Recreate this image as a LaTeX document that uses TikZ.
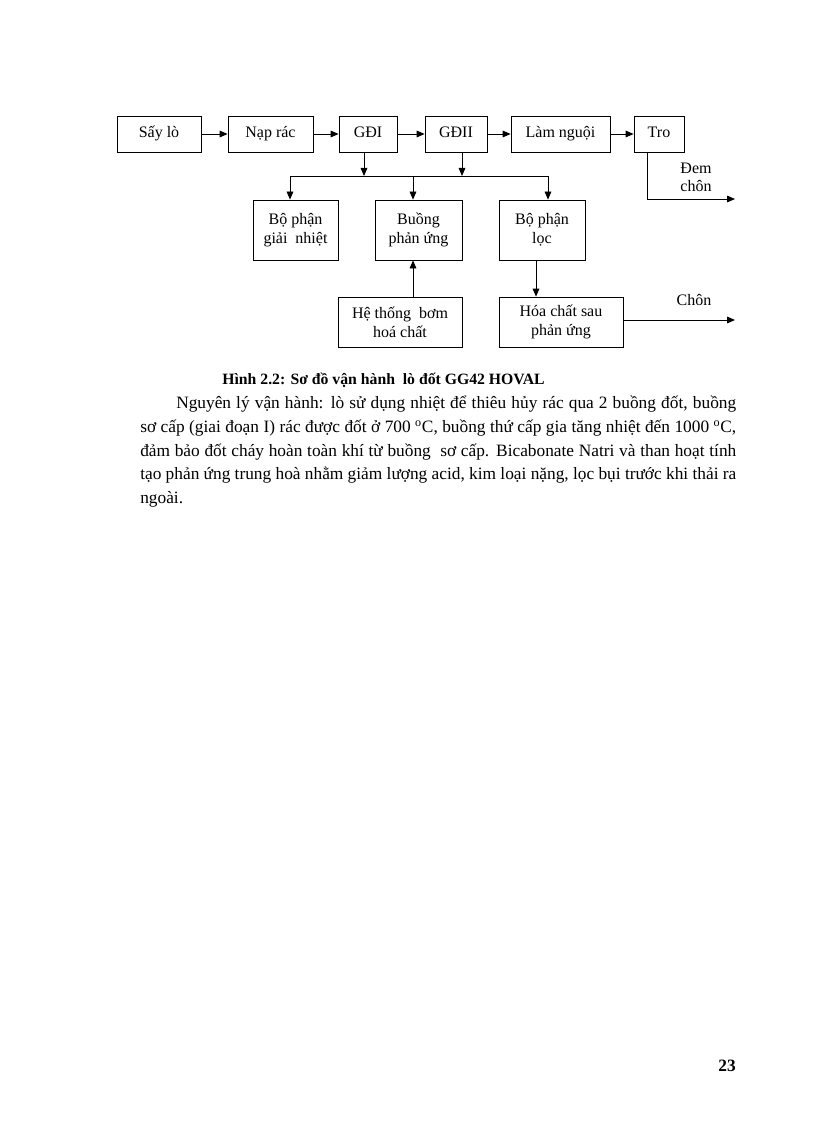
\documentclass[tikz,border=0pt]{standalone}
\usepackage{fontspec}
\setmainfont{Liberation Serif}
\usetikzlibrary{arrows.meta, positioning}

\tikzset{
  box/.style={draw, line width=0.6pt, inner sep=0pt, align=center,
              font=\fontsize{12}{14}\selectfont},
  onebox/.style={box, minimum height=27pt, text height=8pt, text depth=2.5pt},
  flow/.style={-{Triangle[length=6pt,width=5pt]}, line width=0.6pt},
  lbl/.style={inner sep=0pt, align=center, font=\fontsize{12}{13.5}\selectfont},
  para/.style={anchor=base west, inner sep=0pt, font=\fontsize{13}{17}\selectfont},
}

\begin{document}
\begin{tikzpicture}[x=0.75pt, y=-0.75pt]
  \useasboundingbox (0,0) rectangle (816,1123);
  \fill[white] (0,0) rectangle (816,1123);

  % top row
  \node[onebox, minimum width=63pt] (say) at (159,134) {Sấy lò};
  \node[onebox, minimum width=63.75pt] (nap) at (270.5,134) {Nạp rác};
  \node[onebox, minimum width=43.5pt] (gd1) at (368,134) {GĐI};
  \node[onebox, minimum width=46.5pt] (gd2) at (456,134) {GĐII};
  \node[onebox, minimum width=74.25pt] (lam) at (560.5,134) {Làm nguội};
  \node[onebox, minimum width=37.5pt] (tro) at (659,134) {Tro};

  % second row
  \node[box, minimum width=63.75pt, minimum height=45pt] (bpgn) at (295.5,230) {Bộ phận\\giải\ \ nhiệt};
  \node[box, minimum width=65.25pt, minimum height=45pt] (buong) at (418.5,230) {Buồng\\phản ứng};
  \node[box, minimum width=64.5pt, minimum height=45pt] (loc) at (542,230) {Bộ phận\\lọc};

  % third row
  \node[box, minimum width=93pt, minimum height=37.5pt] (heth) at (400,322) {Hệ thống\ \ bơm\\hoá chất};
  \node[box, minimum width=93pt, minimum height=37.5pt] (hoa) at (561,322) {Hóa chất sau\\phản ứng};

  \draw[flow] (say) -- (nap);
  \draw[flow] (nap) -- (gd1);
  \draw[flow] (gd1) -- (gd2);
  \draw[flow] (gd2) -- (lam);
  \draw[flow] (lam) -- (tro);

  % bus under GDI / GDII
  \coordinate (b1) at (364,176);
  \coordinate (b2) at (462,176);
  \coordinate (bl) at (290,176);
  \coordinate (bm) at (413,176);
  \coordinate (br) at (548,176);
  \draw[flow] (gd1.south -| b1) -- (b1);
  \draw[flow] (gd2.south -| b2) -- (b2);
  \draw[line width=0.6pt] (bl) -- (br);
  \draw[flow] (bl) -- (bl |- bpgn.north);
  \draw[flow] (bm) -- (bm |- buong.north);
  \draw[flow] (br) -- (br |- loc.north);

  \draw[flow] (heth.north -| bm) -- (buong.south -| bm);
  \coordinate (lx) at (536,280);
  \draw[flow] (loc.south -| lx) -- (hoa.north -| lx);

  % outlets
  \coordinate (tx) at (647,199);
  \coordinate (tend) at (735,199);
  \draw[flow] (tro.south -| tx) -- (tx) -- (tend);
  \coordinate (hend) at (735,320);
  \draw[flow] (hoa.east |- hend) -- (hend);
  \node[lbl] (dem) at (696,177) {Đem\\chôn};
  \node[lbl] (chon) at (694,300) {Chôn};

  % caption and text
  \node[anchor=base, inner sep=0pt, font=\fontsize{11.8}{17}\selectfont\bfseries] (cap) at (383.5,384)
    {Hình 2.2: Sơ đồ vận hành\ \ lò đốt GG42 HOVAL};
  \node[para] (p1) at (176,408) {\makebox[420pt][s]{Nguyên lý vận hành: lò sử dụng nhiệt để thiêu hủy rác qua 2 buồng đốt, buồng}};
  \node[para] (p2) at (140,432) {\makebox[447pt][s]{sơ cấp (giai đoạn I) rác được đốt ở 700 \textsuperscript{o}C, buồng thứ cấp gia tăng nhiệt đến 1000 \textsuperscript{o}C,}};
  \node[para] (p3) at (140,456) {\makebox[447pt][s]{đảm bảo đốt cháy hoàn toàn khí từ buồng\ \ sơ cấp. Bicabonate Natri và than hoạt tính}};
  \node[para] (p4) at (140,479) {\makebox[447pt][s]{tạo phản ứng trung hoà nhằm giảm lượng acid, kim loại nặng, lọc bụi trước khi thải ra}};
  \node[para] (p5) at (140,503) {ngoài.};

  \node[anchor=base east, inner sep=0pt, font=\fontsize{13}{17}\selectfont\bfseries] (pg) at (736,1071) {23};
\end{tikzpicture}
\end{document}
